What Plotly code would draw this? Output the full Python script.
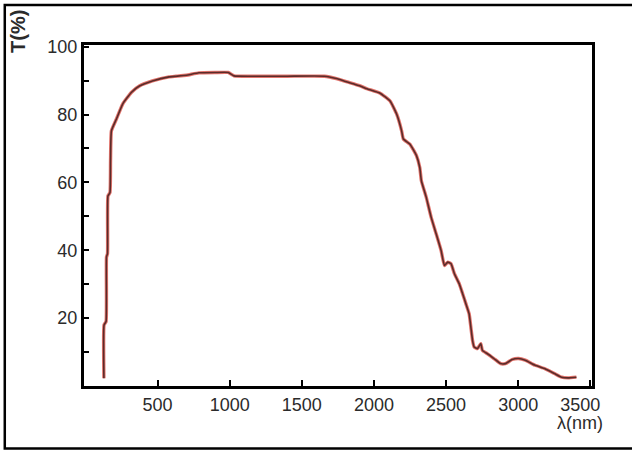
import plotly.graph_objects as go

wavelength_nm = [128, 129, 143, 146, 153, 156, 170, 174, 180, 215, 258, 318, 374, 464, 580,
                 628, 700, 786, 900, 990, 1030, 1200, 1400, 1657, 1740, 1815, 1900, 1952, 2043,
                 2112, 2158, 2192, 2204, 2249, 2295, 2318, 2329, 2363, 2397, 2432, 2466,
                 2489, 2512, 2535, 2558, 2592, 2615, 2638, 2660, 2672, 2684, 2695, 2718,
                 2741, 2752, 2787, 2832, 2878, 2912, 2958, 3003, 3049, 3118, 3186, 3255,
                 3301, 3346, 3404]
transmittance = [2.3, 18, 19, 38, 39, 56, 57, 66.4, 75.2, 78.7, 83.1, 86.5, 88.4, 89.9, 91.1,
                 91.3, 91.6, 92.3, 92.4, 92.4, 91.4, 91.3, 91.3, 91.3, 90.6, 89.6, 88.5, 87.6, 86.3,
                 84.0, 80.1, 75.2, 72.8, 71.3, 67.9, 64.4, 60.5, 55.6, 49.7, 44.8, 39.9,
                 35.5, 36.5, 36.0, 33.1, 30.1, 27.2, 24.2, 21.3, 17.4, 13.4, 11.5, 11.0,
                 12.5, 10.5, 9.5, 8.1, 6.6, 6.6, 7.8, 8.1, 7.6, 6.1, 5.1, 3.6,
                 2.6, 2.4, 2.6]
assert len(wavelength_nm) == len(transmittance)

x_tickvals = [500, 1000, 1500, 2000, 2500, 3000, 3500]
x_ticktext = ["500", "1000", "1500", "2000", "2500", "3000", "3500\u00a0\u00a0\u00a0\u00a0"]
y_tickvals = [10, 20, 30, 40, 50, 60, 70, 80, 90, 100]
y_ticktext = ["", "20", "", "40", "", "60", "", "80", "", "100"]

FONT = "Liberation Sans, Arial, sans-serif"
TXT = "#2b2b2b"

fig = go.Figure()
fig.add_trace(go.Scatter(x=wavelength_nm, y=transmittance, mode="lines",
                         line=dict(color="#d9463c", width=3.4, shape="spline", smoothing=0.4),
                         opacity=0.75, hoverinfo="skip", showlegend=False))
fig.add_trace(go.Scatter(x=wavelength_nm, y=transmittance, mode="lines",
                         line=dict(color="#5a2c2a", width=1.6, shape="spline", smoothing=0.4),
                         showlegend=False))

fig.update_layout(
    width=632, height=450,
    margin=dict(l=84, r=35, t=45, b=64),
    paper_bgcolor="white", plot_bgcolor="white",
    font=dict(family=FONT, size=18, color=TXT),
    xaxis=dict(range=[-10, 3512], tickvals=x_tickvals, ticktext=x_ticktext,
               ticks="inside", ticklen=6, tickwidth=2, tickcolor="black",
               showline=True, linewidth=3, linecolor="black", mirror=True,
               showgrid=False, zeroline=False,
               tickfont=dict(family=FONT, size=18, color=TXT)),
    yaxis=dict(range=[0, 100.5], tickvals=y_tickvals, ticktext=y_ticktext,
               ticks="inside", ticklen=5, tickwidth=2, tickcolor="black",
               showline=True, linewidth=3, linecolor="black", mirror=True,
               showgrid=False, zeroline=False,
               tickfont=dict(family=FONT, size=18, color=TXT)),
    annotations=[
        dict(text="<b>T(%)</b>", xref="paper", yref="paper", x=-0.1287, y=1.04,
             textangle=-90, showarrow=False, xanchor="center", yanchor="middle",
             font=dict(family=FONT, size=20, color=TXT)),
        dict(text="\u03bb(nm)", xref="paper", yref="paper", x=0.976, y=-0.108,
             showarrow=False, xanchor="center", yanchor="middle",
             font=dict(family=FONT, size=18, color=TXT)),
    ],
    shapes=[
        dict(type="rect", xref="paper", yref="paper",
             x0=(4 - 84) / 513, x1=1.5,
             y0=(386 - 448.5) / 341, y1=(386 - 5) / 341,
             line=dict(color="black", width=2.5), fillcolor="rgba(0,0,0,0)", layer="below"),
    ],
)

fig.write_html("out.html")
